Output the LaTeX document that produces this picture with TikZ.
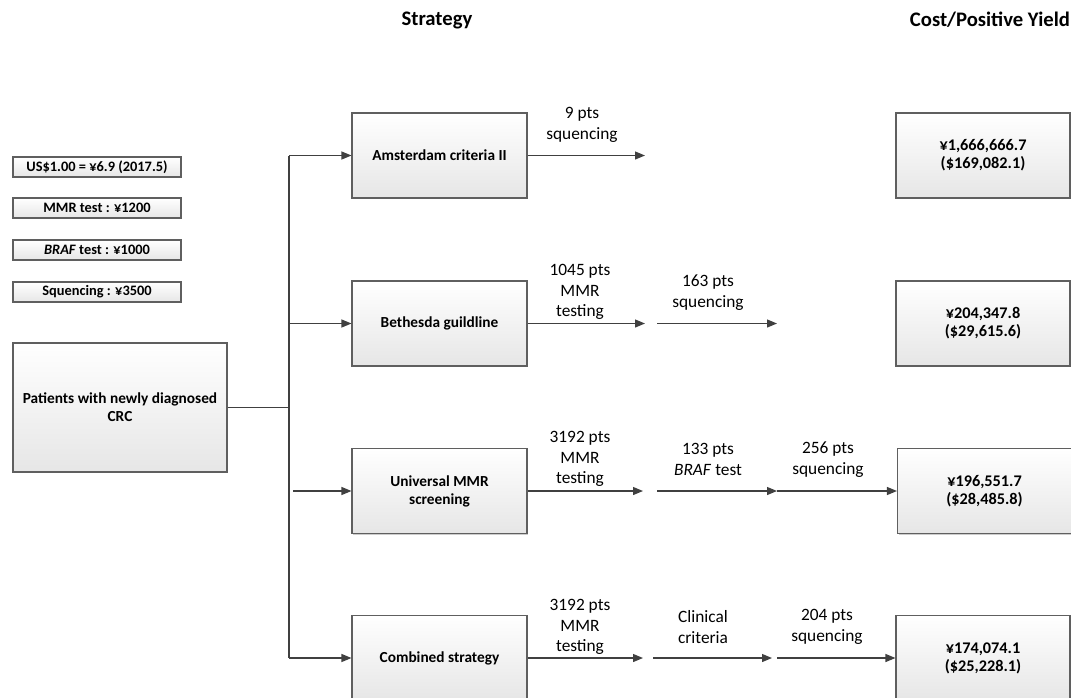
\documentclass[tikz,border=0pt]{standalone}
\usepackage{fontspec}
\setmainfont{Carlito}
\usetikzlibrary{arrows.meta,shadows}
\definecolor{boxborder}{HTML}{5F5F5F}
\definecolor{boxbottom}{HTML}{E6E6E6}
\definecolor{linecol}{HTML}{404040}
\tikzset{
  box/.style={draw=boxborder, line width=0.8pt, top color=white, bottom color=boxbottom,
    align=center, inner sep=1pt, font=\bfseries\fontsize{11.5}{13.5}\selectfont,
    drop shadow={shadow xshift=1pt, shadow yshift=-1pt, opacity=0.2, fill=black}},
  bigbox/.style={box, minimum width=131.25pt, minimum height=63.75pt},
  costbox/.style={box, minimum width=130.5pt, minimum height=63.75pt, font=\bfseries\fontsize{12.2}{13.6}\selectfont},
  smallbox/.style={box, minimum width=126pt, minimum height=15pt, font=\bfseries\fontsize{10.8}{13}\selectfont},
  lbl/.style={align=center, inner sep=0pt, font=\fontsize{13}{15.4}\selectfont},
  hdr/.style={inner sep=0pt, font=\bfseries\fontsize{15.5}{18}\selectfont},
  conn/.style={draw=linecol, line width=0.9pt},
  arr/.style={conn, -{Triangle[length=7.5pt,width=6pt]}},
}
\begin{document}
\begin{tikzpicture}[x=0.75pt,y=-0.75pt]
\useasboundingbox (0,0) rectangle (1071,697);
% headers
\node[hdr] (h1) at (437,20) {Strategy};
\node[hdr] (h2) at (990,20) {Cost/Positive Yield};
% legend boxes
\node[smallbox] (s1) at (97,167) {US\$1.00 = ¥6.9 (2017.5)};
\node[smallbox] (s2) at (97,208) {MMR test : ¥1200};
\node[smallbox] (s3) at (97,250) {\textit{BRAF} test : ¥1000};
\node[smallbox] (s4) at (97,292) {Squencing : ¥3500};
% patients
\node[box, minimum width=160.5pt, minimum height=96.75pt] (pat) at (120,407.5) {Patients with newly diagnosed\\CRC};
% strategies
\node[bigbox] (ams) at (439.5,155.5) {Amsterdam criteria II};
\node[bigbox] (bet) at (439.5,323.5) {Bethesda guildline};
\node[bigbox] (uni) at (439.5,491) {Universal MMR\\screening};
\node[bigbox] (com) at (439.5,658) {Combined strategy};
% costs
\node[costbox] (c1) at (983,155.5) {¥1,666,666.7\\(\$169,082.1)};
\node[costbox] (c2) at (983,323.5) {¥204,347.8\\(\$29,615.6)};
\node[costbox] (c3) at (984.5,491) {¥196,551.7\\(\$28,485.8)};
\node[costbox] (c4) at (983,658) {¥174,074.1\\(\$25,228.1)};
% trunk
\coordinate (tr) at (289,0);
\coordinate (ttop) at (ams.west -| tr);
\coordinate (tbot) at (com.west -| tr);
\draw[conn] (pat.east) -- (pat.east -| tr);
\draw[conn] (ttop) -- (tbot);
\draw[arr] (ttop) -- (ams.west);
\draw[arr] (bet.west -| tr) -- (bet.west);
\coordinate (ug) at (293,491);
\draw[arr] (ug) -- (uni.west);
\draw[arr] (tbot) -- (com.west);
% Amsterdam row
\coordinate (a1) at (645,155.5);
\draw[arr] (ams.east) -- (a1);
\node[lbl] (la1) at (582,125) {9 pts\\squencing};
% Bethesda row
\coordinate (b1) at (645,323.5);
\coordinate (b2) at (657,323.5);
\coordinate (b3) at (777,323.5);
\draw[arr] (bet.east) -- (b1);
\draw[arr] (b2) -- (b3);
\node[lbl] (lb1) at (580,292) {1045 pts\\MMR\\testing};
\node[lbl] (lb2) at (708,292.5) {163 pts\\squencing};
% Universal row
\coordinate (u1) at (643,491);
\coordinate (u2) at (657,491);
\coordinate (u3) at (777,491);
\draw[arr] (uni.east) -- (u1);
\draw[arr] (u2) -- (u3);
\draw[arr] (u3) -- (c3.west);
\node[lbl] (lu1) at (580,459) {3192 pts\\MMR\\testing};
\node[lbl] (lu2) at (708,459.5) {133 pts\\\textit{BRAF} test};
\node[lbl] (lu3) at (828,459.5) {256 pts\\squencing};
% Combined row
\coordinate (k1) at (643,658);
\coordinate (k2) at (653,658);
\coordinate (k3) at (772,658);
\coordinate (k4) at (777,658);
\draw[arr] (com.east) -- (k1);
\draw[arr] (k2) -- (k3);
\draw[arr] (k4) -- (c4.west);
\node[lbl] (lk1) at (580,627) {3192 pts\\MMR\\testing};
\node[lbl] (lk2) at (703,627) {Clinical\\criteria};
\node[lbl] (lk3) at (827,627) {204 pts\\squencing};
\end{tikzpicture}
\end{document}
